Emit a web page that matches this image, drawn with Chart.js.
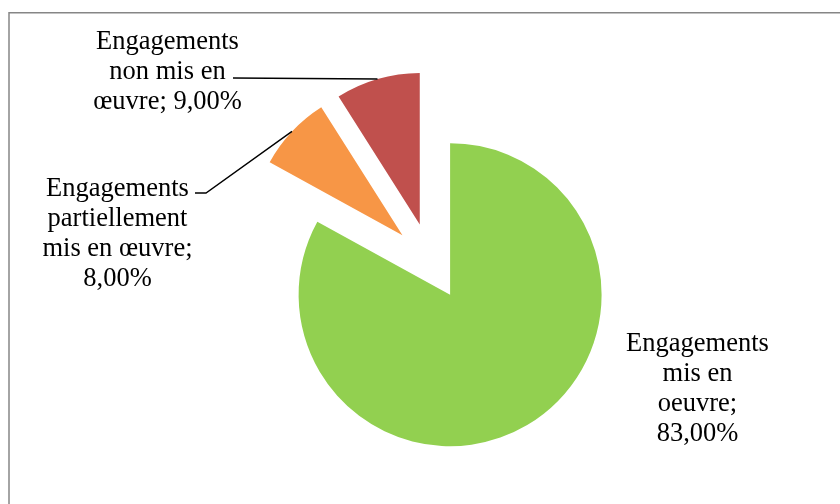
<!DOCTYPE html>
<html>
<head>
<meta charset="utf-8">
<script src="https://cdn.jsdelivr.net/npm/chart.js@4"></script>
<style>
  html, body { margin: 0; padding: 0; background: #fff; }
  #wrap { width: 840px; height: 504px; }
</style>
</head>
<body>
<div id="wrap"><canvas id="pieChart" width="840" height="504"></canvas></div>
<script>
const categories = ["Engagements mis en oeuvre", "Engagements partiellement mis en œuvre", "Engagements non mis en œuvre"];
const shares = [83, 8, 9];
const sliceColors = ["#92D050", "#F79646", "#C0504D"];
// how many words go on each line of a data label
const labelWrap = [[1, 2, 1, 1], [1, 1, 3, 1], [1, 3, 2]];

const EXPLODE = 38.5;
const LINE_H = 30;
const labelBoxes = [
  { x: 697.5, y: 351 },
  { x: 117.5, y: 195.5, leader: [[195, 193], [206, 193]] },
  { x: 167.5, y: 49, leader: [[233, 78]] }
];

function pct(v) {
  return v.toFixed(2).replace(".", ",") + "%";
}

function labelLines(i) {
  const words = (categories[i] + "; " + pct(shares[i])).split(" ");
  const lines = [];
  let k = 0;
  labelWrap[i].forEach((n) => {
    lines.push(words.slice(k, k + n).join(" "));
    k += n;
  });
  return lines;
}

// pull every slice out along its middle angle, like an exploded Excel pie
const explodePlugin = {
  id: "explode",
  afterDatasetUpdate(chart, args) {
    chart.getDatasetMeta(args.index).data.forEach((arc) => {
      const mid = (arc.startAngle + arc.endAngle) / 2;
      arc.x += Math.cos(mid) * EXPLODE;
      arc.y += Math.sin(mid) * EXPLODE;
    });
  }
};

const framePlugin = {
  id: "frame",
  beforeDraw(chart) {
    const ctx = chart.ctx;
    ctx.save();
    ctx.strokeStyle = "#868686";
    ctx.lineWidth = 1.5;
    ctx.beginPath();
    ctx.moveTo(9, 510);
    ctx.lineTo(9, 12.75);
    ctx.lineTo(845, 12.75);
    ctx.stroke();
    ctx.restore();
  }
};

const labelPlugin = {
  id: "sliceLabels",
  afterDatasetsDraw(chart) {
    const ctx = chart.ctx;
    const arcs = chart.getDatasetMeta(0).data;
    ctx.save();
    ctx.font = '26.5px "Liberation Serif", "Times New Roman", serif';
    ctx.fillStyle = "#000";
    ctx.textAlign = "center";
    ctx.textBaseline = "alphabetic";
    labelBoxes.forEach((box, i) => {
      labelLines(i).forEach((line, j) => {
        ctx.fillText(line, box.x, box.y + j * LINE_H);
      });
      if (box.leader) {
        const arc = arcs[i];
        const mid = (arc.startAngle + arc.endAngle) / 2;
        ctx.strokeStyle = "#000";
        ctx.lineWidth = 1.4;
        ctx.beginPath();
        ctx.moveTo(box.leader[0][0], box.leader[0][1]);
        box.leader.slice(1).forEach((p) => ctx.lineTo(p[0], p[1]));
        ctx.lineTo(arc.x + Math.cos(mid) * arc.outerRadius, arc.y + Math.sin(mid) * arc.outerRadius);
        ctx.stroke();
      }
    });
    ctx.restore();
  }
};

const ctx = document.getElementById("pieChart").getContext("2d");
new Chart(ctx, {
  type: "pie",
  data: {
    labels: categories,
    datasets: [{
      data: shares,
      backgroundColor: sliceColors,
      borderWidth: 0,
      radius: 151.5
    }]
  },
  options: {
    responsive: false,
    animation: false,
    layout: { padding: { left: 21, top: 19, right: 0, bottom: 0 } },
    plugins: {
      legend: { display: false },
      tooltip: { enabled: false }
    }
  },
  plugins: [framePlugin, explodePlugin, labelPlugin]
});
</script>
</body>
</html>
